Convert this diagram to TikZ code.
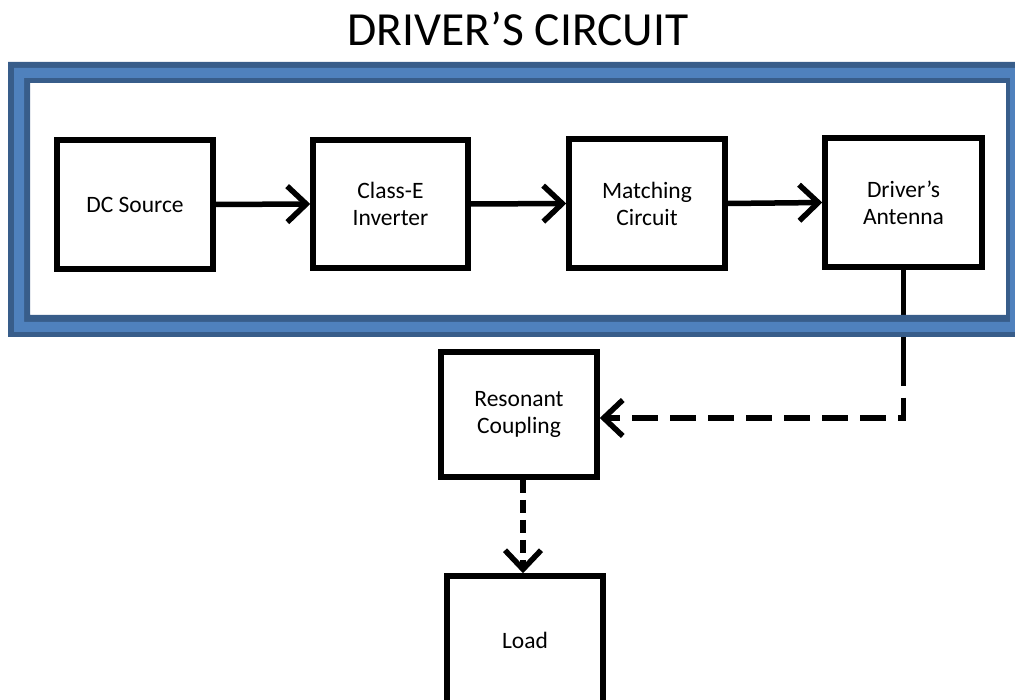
\documentclass[tikz,border=0pt]{standalone}
\usepackage{fontspec}
\setmainfont{Carlito}
\usetikzlibrary{arrows.meta}
\definecolor{framedark}{HTML}{385D8A}
\definecolor{framelight}{HTML}{4F81BD}
\tikzset{
  blk/.style={draw=black, line width=5.5pt, fill=white, align=center,
    inner sep=0pt, font=\fontsize{23.5}{27}\selectfont},
  flow/.style={line width=5.5pt, -{Straight Barb[length=19pt,width=36pt,line width=5.5pt]}},
  dflow/.style={flow, dash pattern=on 26pt off 12pt},
  dflowshort/.style={flow, dash pattern=on 13pt off 7pt},
}
\begin{document}
\begin{tikzpicture}[x=1pt,y=-1pt]
\clip (0,0) rectangle (1015,700);
\fill[white] (0,0) rectangle (1015,700);
\node[font=\fontsize{47.5}{52}\selectfont] (title) at (518,29) {DRIVER’S CIRCUIT};

\node[blk, minimum width=156pt, minimum height=129pt] (dc) at (135,204.5) {DC Source};
\node[blk, minimum width=155pt, minimum height=128pt] (ce) at (390.5,204) {Class-E\\Inverter};
\node[blk, minimum width=156pt, minimum height=129pt] (mc) at (647,203.5) {Matching\\Circuit};
\node[blk, minimum width=157pt, minimum height=129pt] (da) at (903.5,202.5) {Driver’s\\Antenna};
\node[blk, minimum width=156pt, minimum height=125pt] (rc) at (519,414.5) {Resonant\\Coupling};
\node[blk, minimum width=156pt, minimum height=128pt] (ld) at (525,640) {Load};

\draw[flow] (dc.east) -- (ce.west);
\draw[flow] (ce.east) -- (mc.west);
\draw[flow] (mc.east) -- (da.west);
\coordinate (bend) at (da.south |- 0,418);
\coordinate (rcin) at (rc.east |- 0,418);
\coordinate (ldin) at (523,0 |- ld.north);
\coordinate (rcout) at (523,0 |- rc.south);
\draw[line width=5.5pt] (da.south) -- ++(0,90);
\draw[dflow] (da.south) ++(0,90) -- (bend) -- (rcin);
\draw[dflowshort] (rcout) -- (ldin);

% frame
\fill[framedark, even odd rule] (8,62) rectangle (1030,337) (30,83) rectangle (1006,315);
\fill[framelight, even odd rule] (14,68) rectangle (1024,332) (24,78) rectangle (1010,322);
\end{tikzpicture}
\end{document}
